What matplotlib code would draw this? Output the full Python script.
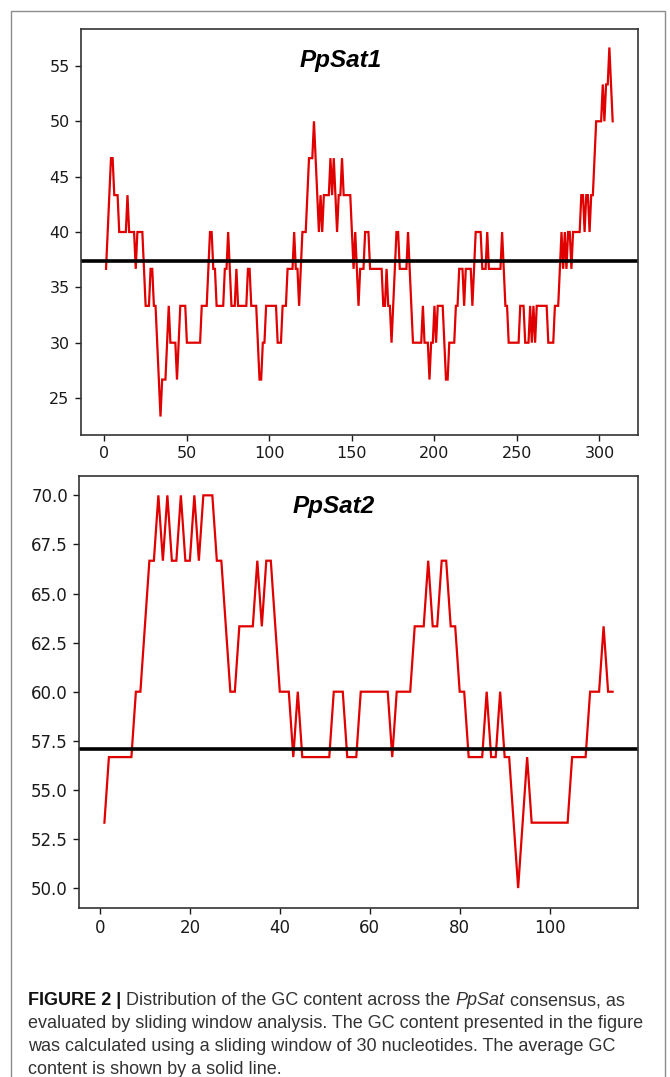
import matplotlib
matplotlib.use("Agg")
import matplotlib.pyplot as plt
from matplotlib.patches import Rectangle

# ---------------- data ----------------
pos1 = list(range(1, 309))
gc1 = [
    36.67, 40.00, 43.33, 46.67, 46.67, 43.33, 43.33, 43.33, 40.00, 40.00,
    40.00, 40.00, 40.00, 43.33, 40.00, 40.00, 40.00, 40.00, 36.67, 40.00,
    40.00, 40.00, 40.00, 36.67, 33.33, 33.33, 33.33, 36.67, 36.67, 33.33,
    33.33, 30.00, 26.67, 23.33, 26.67, 26.67, 26.67, 30.00, 33.33, 30.00,
    30.00, 30.00, 30.00, 26.67, 30.00, 33.33, 33.33, 33.33, 33.33, 30.00,
    30.00, 30.00, 30.00, 30.00, 30.00, 30.00, 30.00, 30.00, 33.33, 33.33,
    33.33, 33.33, 36.67, 40.00, 40.00, 36.67, 36.67, 33.33, 33.33, 33.33,
    33.33, 33.33, 36.67, 36.67, 40.00, 36.67, 33.33, 33.33, 33.33, 36.67,
    33.33, 33.33, 33.33, 33.33, 33.33, 33.33, 36.67, 36.67, 33.33, 33.33,
    33.33, 33.33, 30.00, 26.67, 26.67, 30.00, 30.00, 33.33, 33.33, 33.33,
    33.33, 33.33, 33.33, 33.33, 30.00, 30.00, 30.00, 33.33, 33.33, 33.33,
    36.67, 36.67, 36.67, 36.67, 40.00, 36.67, 36.67, 33.33, 36.67, 40.00,
    40.00, 40.00, 43.33, 46.67, 46.67, 46.67, 50.00, 46.67, 43.33, 40.00,
    43.33, 40.00, 43.33, 43.33, 43.33, 43.33, 46.67, 43.33, 46.67, 43.33,
    40.00, 43.33, 43.33, 46.67, 43.33, 43.33, 43.33, 43.33, 43.33, 40.00,
    36.67, 40.00, 36.67, 33.33, 36.67, 36.67, 36.67, 40.00, 40.00, 40.00,
    36.67, 36.67, 36.67, 36.67, 36.67, 36.67, 36.67, 36.67, 33.33, 33.33,
    36.67, 33.33, 33.33, 30.00, 33.33, 36.67, 40.00, 40.00, 36.67, 36.67,
    36.67, 36.67, 36.67, 40.00, 36.67, 33.33, 30.00, 30.00, 30.00, 30.00,
    30.00, 30.00, 33.33, 30.00, 30.00, 30.00, 26.67, 30.00, 30.00, 33.33,
    30.00, 33.33, 33.33, 33.33, 33.33, 30.00, 26.67, 26.67, 30.00, 30.00,
    30.00, 30.00, 33.33, 33.33, 36.67, 36.67, 36.67, 33.33, 36.67, 36.67,
    36.67, 36.67, 33.33, 36.67, 40.00, 40.00, 40.00, 40.00, 36.67, 36.67,
    36.67, 40.00, 36.67, 36.67, 36.67, 36.67, 36.67, 36.67, 36.67, 36.67,
    40.00, 36.67, 33.33, 33.33, 30.00, 30.00, 30.00, 30.00, 30.00, 30.00,
    30.00, 33.33, 33.33, 33.33, 30.00, 30.00, 30.00, 33.33, 30.00, 33.33,
    30.00, 33.33, 33.33, 33.33, 33.33, 33.33, 33.33, 33.33, 30.00, 30.00,
    30.00, 30.00, 33.33, 33.33, 33.33, 36.67, 40.00, 36.67, 40.00, 36.67,
    40.00, 40.00, 36.67, 40.00, 40.00, 40.00, 40.00, 40.00, 43.33, 43.33,
    40.00, 43.33, 43.33, 40.00, 43.33, 43.33, 46.67, 50.00, 50.00, 50.00,
    50.00, 53.33, 50.00, 53.33, 53.33, 56.67, 53.33, 50.00,
]
avg1 = 37.4

pos2 = list(range(1, 115))
gc2 = [
    53.33, 56.67, 56.67, 56.67, 56.67, 56.67, 56.67, 60.00, 60.00, 63.33,
    66.67, 66.67, 70.00, 66.67, 70.00, 66.67, 66.67, 70.00, 66.67, 66.67,
    70.00, 66.67, 70.00, 70.00, 70.00, 66.67, 66.67, 63.33, 60.00, 60.00,
    63.33, 63.33, 63.33, 63.33, 66.67, 63.33, 66.67, 66.67, 63.33, 60.00,
    60.00, 60.00, 56.67, 60.00, 56.67, 56.67, 56.67, 56.67, 56.67, 56.67,
    56.67, 60.00, 60.00, 60.00, 56.67, 56.67, 56.67, 60.00, 60.00, 60.00,
    60.00, 60.00, 60.00, 60.00, 56.67, 60.00, 60.00, 60.00, 60.00, 63.33,
    63.33, 63.33, 66.67, 63.33, 63.33, 66.67, 66.67, 63.33, 63.33, 60.00,
    60.00, 56.67, 56.67, 56.67, 56.67, 60.00, 56.67, 56.67, 60.00, 56.67,
    56.67, 53.33, 50.00, 53.33, 56.67, 53.33, 53.33, 53.33, 53.33, 53.33,
    53.33, 53.33, 53.33, 53.33, 56.67, 56.67, 56.67, 56.67, 60.00, 60.00,
    60.00, 63.33, 60.00, 60.00,
]
avg2 = 57.1

xticks1 = [0, 50, 100, 150, 200, 250, 300]
yticks1 = [25, 30, 35, 40, 45, 50, 55]
xticks2 = [0, 20, 40, 60, 80, 100]
yticks2 = [50.0, 52.5, 55.0, 57.5, 60.0, 62.5, 65.0, 67.5, 70.0]
titles = ["PpSat1", "PpSat2"]

caption = [
    [("FIGURE 2 |", "bold", "normal"),
     ("Distribution of the GC content across the", "normal", "normal"),
     ("PpSat", "normal", "italic"),
     ("consensus, as", "normal", "normal")],
    [("evaluated by sliding window analysis. The GC content presented in the figure", "normal", "normal")],
    [("was calculated using a sliding window of 30 nucleotides. The average GC", "normal", "normal")],
    [("content is shown by a solid line.", "normal", "normal")],
]

# ---------------- figure ----------------
W, H = 670, 1077
fig = plt.figure(figsize=(W / 100, H / 100), dpi=100)
fig.patch.set_facecolor("white")


def px_rect(l, t, r, b):
    return [l / W, 1 - b / H, (r - l) / W, (b - t) / H]


# outer frame
fig.add_artist(Rectangle((11 / W, -0.01), (665 - 11) / W, 1 - 11 / H + 0.01,
                         transform=fig.transFigure, fill=False,
                         edgecolor="#8c8c8c", lw=1.0))

ax1 = fig.add_axes(px_rect(80.7, 29, 638, 435))
ax2 = fig.add_axes(px_rect(79, 475.7, 638, 907.7))

panels = [
    (ax1, pos1, gc1, avg1, xticks1, yticks1, titles[0], (0.466, 0.907), 11.5),
    (ax2, pos2, gc2, avg2, xticks2, yticks2, titles[1], (0.455, 0.914), 12),
]
for ax, x, y, avg, xt, yt, title, tpos, lsize in panels:
    ax.plot(x, y, color="#e00000", lw=1.6, solid_joinstyle="miter")
    ax.axhline(avg, color="black", lw=2.6)
    ax.set_xticks(xt)
    ax.set_yticks(yt)
    if ax is ax2:
        ax.set_yticklabels([f"{v:.1f}" for v in yt])
    ax.tick_params(labelsize=lsize, colors="#1a1a1a", length=4.5, width=1.0)
    for s in ax.spines.values():
        s.set_color("#333333")
        s.set_linewidth(1.2)
    ax.text(tpos[0], tpos[1], title, transform=ax.transAxes, ha="center",
            va="baseline", fontsize=17.5, fontweight="bold", fontstyle="italic",
            family=["Liberation Sans", "DejaVu Sans"], color="black")

# ---------------- caption ----------------
cap_family = ["Liberation Sans Narrow", "Liberation Sans", "DejaVu Sans"]
renderer = fig.canvas.get_renderer()


def text_w(s, size, weight="normal", style="normal"):
    t = fig.text(0, 0, s, fontsize=size, family=cap_family, fontweight=weight,
                 fontstyle=style)
    w = t.get_window_extent(renderer).width
    t.remove()
    return w


target_px = 643 - 28
w10 = text_w(caption[1][0][0], 10)
cap_size = 10 * target_px / w10
space_w = text_w("a a", cap_size) - text_w("aa", cap_size)

baselines = [1005, 1028, 1051, 1074]
for line, yb in zip(caption, baselines):
    xcur = 28.0
    for i, (s, weight, style) in enumerate(line):
        col = "#111111" if weight == "bold" else "#333333"
        fig.text(xcur / W, 1 - yb / H, s, fontsize=cap_size, family=cap_family,
                 fontweight=weight, fontstyle=style, color=col, va="baseline")
        xcur += text_w(s, cap_size, weight, style) + space_w

fig.savefig("out.png", dpi=100, facecolor="white")
